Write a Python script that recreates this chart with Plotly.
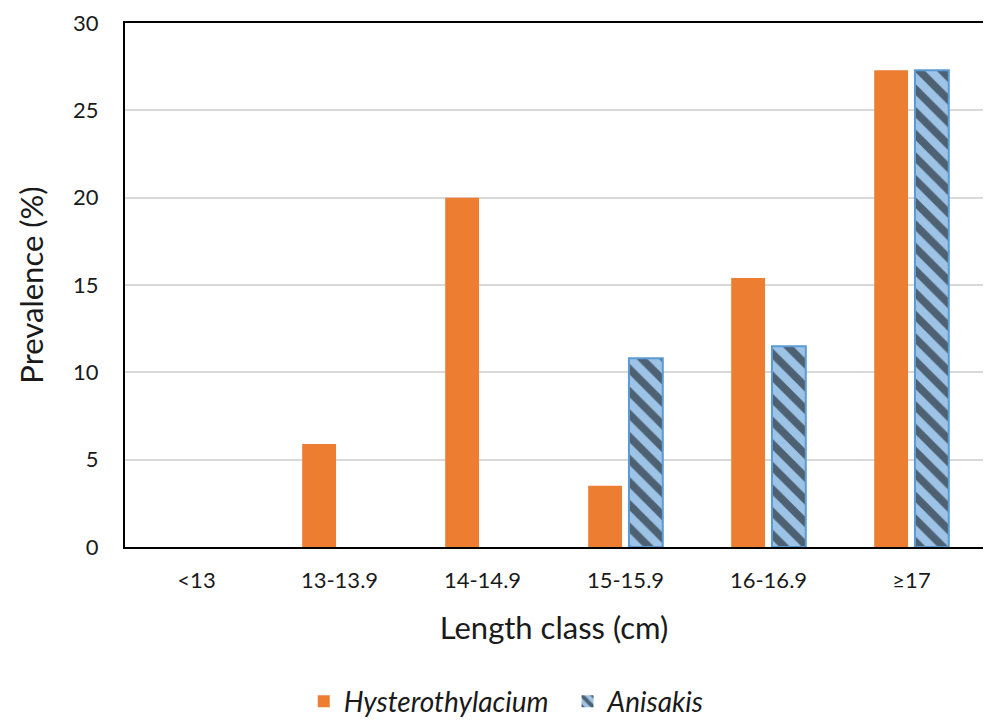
import plotly.graph_objects as go

# Length classes of the fish (cm)
length_classes = ["<13", "13-13.9", "14-14.9", "15-15.9", "16-16.9", "≥17"]

# Prevalence (%) of each parasite genus per length class
hysterothylacium = [0.0, 5.9, 20.0, 3.5, 15.4, 27.3]
anisakis = [0.0, 0.0, 0.0, 10.8, 11.5, 27.3]

font_family = "Lato, 'Open Sans', sans-serif"

# Outline only the bars that actually rise above zero
anisakis_outline = [2 if v > 0 else 0 for v in anisakis]

fig = go.Figure()
fig.add_trace(go.Bar(
    x=length_classes, y=hysterothylacium,
    name="<i>Hysterothylacium</i>\u2002",
    marker=dict(color="#ED7D31", line=dict(width=0)),
))
fig.add_trace(go.Bar(
    x=length_classes, y=anisakis,
    name="<i>Anisakis</i>",
    marker=dict(
        color="#9DC3E6",
        line=dict(color="#5B9BD5", width=anisakis_outline),
        pattern=dict(shape="\\", fgcolor="black", bgcolor="#9DC3E6",
                     size=16, solidity=0.48, fillmode="overlay"),
    ),
))

fig.update_layout(
    width=984, height=721,
    paper_bgcolor="white", plot_bgcolor="white",
    margin=dict(l=125, r=1, t=23, b=174),
    barmode="group", bargap=0.43, bargroupgap=0.17,
    font=dict(family=font_family, color="#1a1a1a"),
    showlegend=True,
    legend=dict(
        orientation="h", xref="container", yref="container",
        x=0.515, xanchor="center", y=0.027, yanchor="middle",
        font=dict(size=28, color="#1a1a1a"),
        itemwidth=30, tracegroupgap=0,
    ),
    xaxis=dict(
        showline=True, linecolor="black", linewidth=2, mirror=True,
        tickfont=dict(size=22), ticks="", ticklabelstandoff=13,
        title=dict(text="Length class (cm)", font=dict(size=31), standoff=25),
    ),
    yaxis=dict(
        range=[0, 30], dtick=5,
        showline=True, linecolor="black", linewidth=2,
        showgrid=True, gridcolor="#D9D9D9", gridwidth=1.5,
        zeroline=False,
        tickfont=dict(size=22), ticks="", ticklabelstandoff=20,
        title=dict(text="Prevalence (%)", font=dict(size=31), standoff=20),
    ),
)

fig.write_html("out.html")
